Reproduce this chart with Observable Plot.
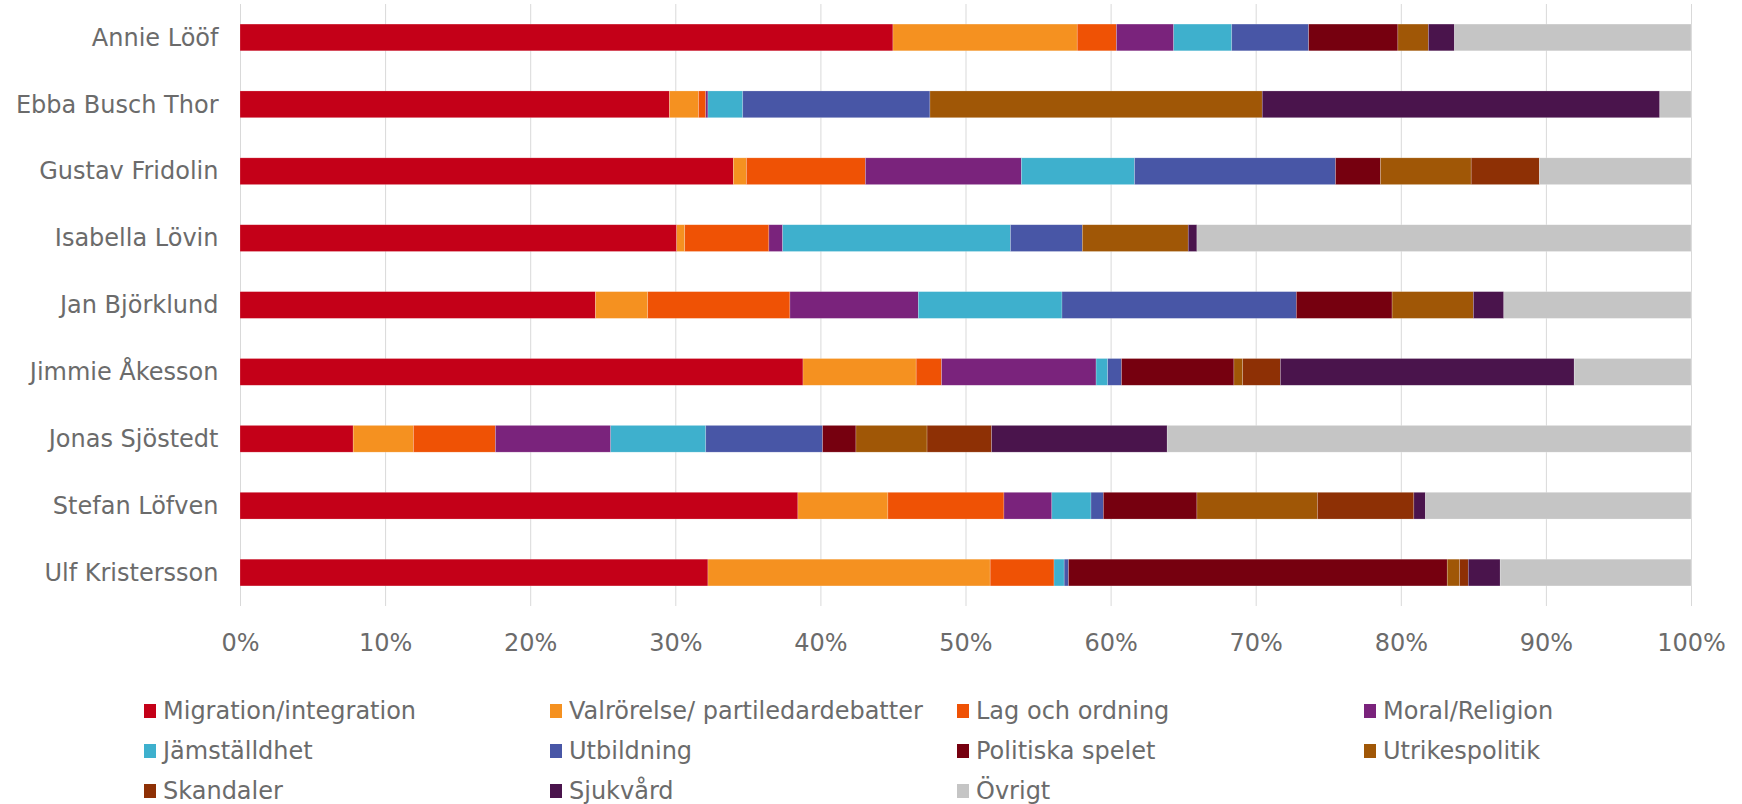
<!DOCTYPE html>
<html>
<head>
<meta charset="utf-8">
<script src="https://cdn.jsdelivr.net/npm/d3@7"></script>
<script src="https://cdn.jsdelivr.net/npm/@observablehq/plot@0.6"></script>
<style>
  html, body { margin: 0; padding: 0; background: #fff; }
  body { width: 1742px; height: 804px; overflow: hidden; font-family: "DejaVu Sans", Verdana, sans-serif; }
  #legend { position: relative; height: 139px; }
  .item { position: absolute; display: flex; align-items: center; height: 40px; font-size: 24px; color: #6b6b6b; white-space: nowrap; }
  .sw { width: 12px; height: 14px; margin-right: 7px; flex: none; }
</style>
</head>
<body>
<div id="chart"></div>
<div id="legend"></div>
<script>
const names = ["Annie Lööf", "Ebba Busch Thor", "Gustav Fridolin", "Isabella Lövin", "Jan Björklund", "Jimmie Åkesson", "Jonas Sjöstedt", "Stefan Löfven", "Ulf Kristersson"];
const topics = ["Migration/integration", "Valrörelse/ partiledardebatter", "Lag och ordning", "Moral/Religion", "Jämställdhet", "Utbildning", "Politiska spelet", "Utrikespolitik", "Skandaler", "Sjukvård", "Övrigt"];
const colors = ["#C40018", "#F59120", "#EF5205", "#7A237C", "#3EB0CD", "#4856A6", "#76000F", "#A05706", "#8E3005", "#4A144C", "#C5C5C5"];
const xTicks = [0, 10, 20, 30, 40, 50, 60, 70, 80, 90, 100];

// values in percent, one array per topic, in the order of `names`
const migration   = [45.0, 29.6, 34.0, 30.1, 24.5, 38.8, 7.8, 38.45, 32.25];
const valrorelse  = [12.7, 2.0, 0.9, 0.55, 3.6, 7.8, 4.15, 6.2, 19.45];
const lagOrdning  = [2.7, 0.5, 8.2, 5.8, 9.8, 1.75, 5.65, 8.0, 4.4];
const moral       = [3.95, 0.15, 10.75, 0.95, 8.85, 10.65, 7.95, 3.3, 0];
const jamstalldhet= [4.0, 2.4, 7.8, 15.7, 9.9, 0.8, 6.55, 2.7, 0.7];
const utbildning  = [5.3, 12.9, 13.85, 4.95, 16.15, 0.95, 8.05, 0.85, 0.3];
const politiska   = [6.15, 0, 3.1, 0, 6.6, 7.75, 2.3, 6.45, 26.1];
const utrikes     = [2.1, 22.9, 6.25, 7.3, 5.6, 0.6, 4.9, 8.3, 0.85];
const skandaler   = [0, 0, 4.7, 0, 0, 2.6, 4.45, 6.65, 0.6];
const sjukvard    = [1.8, 27.4, 0, 0.6, 2.1, 20.25, 12.1, 0.8, 2.2];
const ovrigt      = [16.3, 2.15, 10.45, 34.05, 12.9, 8.05, 36.1, 18.3, 13.15];

const series = [migration, valrorelse, lagOrdning, moral, jamstalldhet, utbildning, politiska, utrikes, skandaler, sjukvard, ovrigt];
const data = [];
series.forEach((vals, ti) => vals.forEach((v, ni) => data.push({name: names[ni], topic: topics[ti], value: v})));

const chart = Plot.plot({
  width: 1742,
  height: 665,
  marginTop: 4,
  marginBottom: 59,
  marginLeft: 240,
  marginRight: 51,
  style: {fontFamily: "'DejaVu Sans', Verdana, sans-serif", fontSize: "24px", color: "#6b6b6b", background: "#fff"},
  x: {domain: [0, 100], ticks: xTicks, tickFormat: d => d + "%", tickSize: 0, tickPadding: 27, label: null, grid: false},
  y: {domain: names, paddingInner: 0.6, paddingOuter: 0.3, round: false, tickSize: 0, tickPadding: 22, label: null},
  color: {domain: topics, range: colors},
  marks: [
    Plot.gridX(xTicks, {stroke: "#d9d9d9", strokeOpacity: 1, strokeWidth: 1}),
    Plot.barX(data, Plot.stackX({x: "value", y: "name", fill: "topic", order: topics, stroke: "#fff", strokeWidth: 0.6, strokeOpacity: 0.35})),
    Plot.axisX({ticks: xTicks, tickFormat: d => d + "%", tickSize: 0, tickPadding: 27, fill: "#6b6b6b", label: null}),
    Plot.axisY({tickSize: 0, tickPadding: 22, fill: "#6b6b6b", label: null})
  ]
});
document.getElementById("chart").appendChild(chart);

const legend = document.getElementById("legend");
const colX = [144, 550, 957, 1364];
topics.forEach((t, i) => {
  const row = Math.floor(i / 4), col = i % 4;
  const el = document.createElement("div");
  el.className = "item";
  el.style.left = colX[col] + "px";
  el.style.top = (26 + row * 40) + "px";
  const sw = document.createElement("span");
  sw.className = "sw";
  sw.style.background = colors[i];
  el.appendChild(sw);
  el.appendChild(document.createTextNode(t));
  legend.appendChild(el);
});
</script>
</body>
</html>
